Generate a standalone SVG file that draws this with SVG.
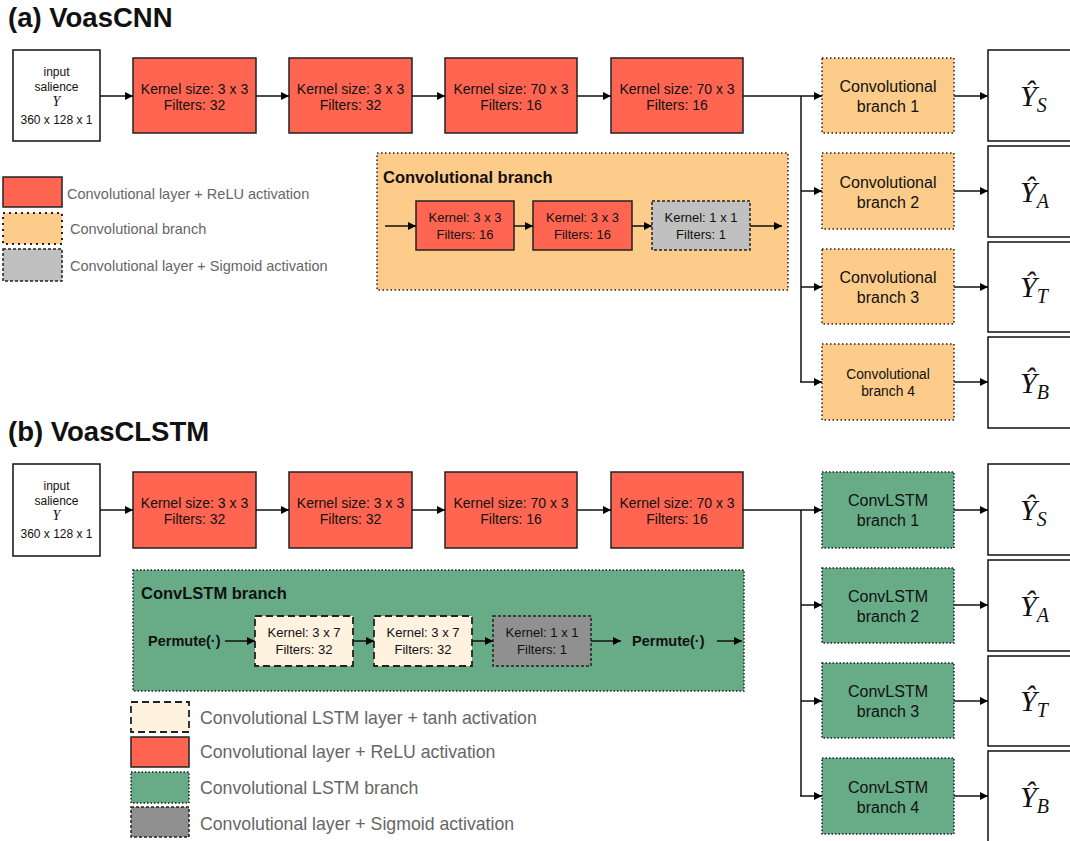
<svg xmlns="http://www.w3.org/2000/svg" width="1070" height="841" viewBox="0 0 1070 841">
<defs>
<marker id="ah" viewBox="0 0 10 10" refX="10" refY="5" markerWidth="8" markerHeight="8" markerUnits="userSpaceOnUse" orient="auto"><path d="M0,0 L10,5 L0,10 z" fill="#000"/></marker>
<style>
.t{font-family:"Liberation Sans",Arial,sans-serif;fill:#111;}
.c{text-anchor:middle;}
.b{font-weight:bold;}
.relu{fill:#FF6550;stroke:#222;stroke-width:1.5;}
.cb{fill:#FDCB8A;stroke:#222;stroke-width:1.5;stroke-dasharray:1.5 2.5;}
.sig{fill:#C0C0C0;stroke:#222;stroke-width:1.5;stroke-dasharray:3 2;}
.lstm{fill:#FFF2DF;stroke:#222;stroke-width:1.8;stroke-dasharray:7 4;}
.gb{fill:#67AB87;stroke:#222;stroke-width:1.5;stroke-dasharray:1.5 2;}
.dsig{fill:#909090;stroke:#222;stroke-width:1.5;stroke-dasharray:3 2;}
.out{fill:#fff;stroke:#111;stroke-width:1.5;}
.in{fill:#fff;stroke:#111;stroke-width:1.5;}
.leg{font-family:"Liberation Sans",Arial,sans-serif;fill:#666;}
.yh{font-family:"Liberation Serif","Times New Roman",serif;font-style:italic;fill:#111;}
.con{stroke:#111;stroke-width:1.5;fill:none;}
.arr{stroke:#111;stroke-width:1.5;fill:none;marker-end:url(#ah);}
</style>
</defs>
<rect width="1070" height="841" fill="#fff"/>

<text class="t b" x="8" y="27" font-size="27.5">(a) VoasCNN</text>
<text class="t b" x="8" y="441" font-size="27.5">(b) VoasCLSTM</text>

<!-- ===== (a) ===== -->
<g id="a-input">
<rect class="in" x="13" y="50" width="87" height="91"/>
<text class="t c" x="56.5" y="76" font-size="12">input</text>
<text class="t c" x="56.5" y="91" font-size="12">salience</text>
<text class="yh c" x="56.5" y="106" font-size="14">Y</text>
<text class="t c" x="56.5" y="124" font-size="12">360 x 128 x 1</text>
</g>
<g id="a-conv1"><rect class="relu" x="133" y="58" width="123" height="75"/>
<text class="t c" x="194.5" y="94" font-size="14">Kernel size: 3 x 3</text><text class="t c" x="194.5" y="110" font-size="14">Filters: 32</text></g>
<g id="a-conv2"><rect class="relu" x="289" y="58" width="123" height="75"/>
<text class="t c" x="350.5" y="94" font-size="14">Kernel size: 3 x 3</text><text class="t c" x="350.5" y="110" font-size="14">Filters: 32</text></g>
<g id="a-conv3"><rect class="relu" x="445" y="58" width="132" height="75"/>
<text class="t c" x="511" y="94" font-size="14">Kernel size: 70 x 3</text><text class="t c" x="511" y="110" font-size="14">Filters: 16</text></g>
<g id="a-conv4"><rect class="relu" x="611" y="58" width="132" height="75"/>
<text class="t c" x="677" y="94" font-size="14">Kernel size: 70 x 3</text><text class="t c" x="677" y="110" font-size="14">Filters: 16</text></g>

<g id="a-branch1"><rect class="cb" x="822" y="58" width="132" height="75"/>
<text class="t c" x="888" y="92" font-size="16">Convolutional</text><text class="t c" x="888" y="112" font-size="16">branch 1</text></g>
<g id="a-branch2"><rect class="cb" x="822" y="153" width="132" height="76"/>
<text class="t c" x="888" y="188" font-size="16">Convolutional</text><text class="t c" x="888" y="208" font-size="16">branch 2</text></g>
<g id="a-branch3"><rect class="cb" x="822" y="249" width="132" height="75"/>
<text class="t c" x="888" y="283" font-size="16">Convolutional</text><text class="t c" x="888" y="303" font-size="16">branch 3</text></g>
<g id="a-branch4"><rect class="cb" x="822" y="344" width="132" height="76"/>
<text class="t c" x="888" y="379" font-size="13.8">Convolutional</text><text class="t c" x="888" y="396" font-size="13.8">branch 4</text></g>

<g id="a-outS"><rect class="out" x="988" y="50" width="100" height="91"/>
<text class="yh" x="1020" y="106" font-size="30">Ŷ<tspan font-size="20" dy="6">S</tspan></text></g>
<g id="a-outA"><rect class="out" x="988" y="146" width="100" height="91"/>
<text class="yh" x="1020" y="202" font-size="30">Ŷ<tspan font-size="20" dy="6">A</tspan></text></g>
<g id="a-outT"><rect class="out" x="988" y="242" width="100" height="90"/>
<text class="yh" x="1020" y="297" font-size="30">Ŷ<tspan font-size="20" dy="6">T</tspan></text></g>
<g id="a-outB"><rect class="out" x="988" y="337" width="100" height="91"/>
<text class="yh" x="1020" y="393" font-size="30">Ŷ<tspan font-size="20" dy="6">B</tspan></text></g>

<g id="a-legend">
<rect class="relu" x="3" y="177" width="59" height="30"/>
<text class="leg" x="67" y="199" font-size="14.5">Convolutional layer + ReLU activation</text>
<rect class="cb" x="3" y="213" width="59" height="31" style="stroke-width:2;stroke-dasharray:2 4"/>
<text class="leg" x="70" y="234" font-size="14.5">Convolutional branch</text>
<rect class="sig" x="3" y="249" width="59" height="32"/>
<text class="leg" x="70" y="271" font-size="14.5">Convolutional layer + Sigmoid activation</text>
</g>

<g id="a-convbranch">
<rect class="cb" x="377" y="153" width="411" height="137"/>
<text class="t b" x="383" y="183" font-size="16.5">Convolutional branch</text>
<rect class="relu" x="416" y="201" width="98" height="49"/>
<text class="t c" x="465" y="222" font-size="13">Kernel: 3 x 3</text><text class="t c" x="465" y="239" font-size="13">Filters: 16</text>
<rect class="relu" x="533" y="201" width="99" height="49"/>
<text class="t c" x="582.5" y="222" font-size="13">Kernel: 3 x 3</text><text class="t c" x="582.5" y="239" font-size="13">Filters: 16</text>
<rect class="sig" x="652" y="201" width="98" height="49"/>
<text class="t c" x="701" y="222" font-size="13">Kernel: 1 x 1</text><text class="t c" x="701" y="239" font-size="13">Filters: 1</text>
<line class="arr" x1="385" y1="226" x2="416" y2="226"/>
<line class="arr" x1="514" y1="226" x2="533" y2="226"/>
<line class="arr" x1="632" y1="226" x2="652" y2="226"/>
<line class="arr" x1="750" y1="226" x2="782" y2="226"/>
</g>

<!-- ===== (b) ===== -->
<g id="b-input">
<rect class="in" x="13" y="464" width="87" height="92"/>
<text class="t c" x="56.5" y="490" font-size="12">input</text>
<text class="t c" x="56.5" y="505" font-size="12">salience</text>
<text class="yh c" x="56.5" y="520" font-size="14">Y</text>
<text class="t c" x="56.5" y="538" font-size="12">360 x 128 x 1</text>
</g>
<g id="b-conv1"><rect class="relu" x="133" y="472" width="123" height="76"/>
<text class="t c" x="194.5" y="508" font-size="14">Kernel size: 3 x 3</text><text class="t c" x="194.5" y="524" font-size="14">Filters: 32</text></g>
<g id="b-conv2"><rect class="relu" x="289" y="472" width="123" height="76"/>
<text class="t c" x="350.5" y="508" font-size="14">Kernel size: 3 x 3</text><text class="t c" x="350.5" y="524" font-size="14">Filters: 32</text></g>
<g id="b-conv3"><rect class="relu" x="445" y="472" width="132" height="76"/>
<text class="t c" x="511" y="508" font-size="14">Kernel size: 70 x 3</text><text class="t c" x="511" y="524" font-size="14">Filters: 16</text></g>
<g id="b-conv4"><rect class="relu" x="611" y="472" width="132" height="76"/>
<text class="t c" x="677" y="508" font-size="14">Kernel size: 70 x 3</text><text class="t c" x="677" y="524" font-size="14">Filters: 16</text></g>

<g id="b-branch1"><rect class="gb" x="822" y="472" width="132" height="76"/>
<text class="t c" x="888" y="506" font-size="16">ConvLSTM</text><text class="t c" x="888" y="526" font-size="16">branch 1</text></g>
<g id="b-branch2"><rect class="gb" x="822" y="568" width="132" height="75"/>
<text class="t c" x="888" y="602" font-size="16">ConvLSTM</text><text class="t c" x="888" y="622" font-size="16">branch 2</text></g>
<g id="b-branch3"><rect class="gb" x="822" y="663" width="132" height="75"/>
<text class="t c" x="888" y="697" font-size="16">ConvLSTM</text><text class="t c" x="888" y="717" font-size="16">branch 3</text></g>
<g id="b-branch4"><rect class="gb" x="822" y="758" width="132" height="76"/>
<text class="t c" x="888" y="793" font-size="16">ConvLSTM</text><text class="t c" x="888" y="813" font-size="16">branch 4</text></g>

<g id="b-outS"><rect class="out" x="988" y="464" width="100" height="91"/>
<text class="yh" x="1020" y="520" font-size="30">Ŷ<tspan font-size="20" dy="6">S</tspan></text></g>
<g id="b-outA"><rect class="out" x="988" y="560" width="100" height="91"/>
<text class="yh" x="1020" y="616" font-size="30">Ŷ<tspan font-size="20" dy="6">A</tspan></text></g>
<g id="b-outT"><rect class="out" x="988" y="656" width="100" height="90"/>
<text class="yh" x="1020" y="711" font-size="30">Ŷ<tspan font-size="20" dy="6">T</tspan></text></g>
<g id="b-outB"><rect class="out" x="988" y="751" width="100" height="100"/>
<text class="yh" x="1020" y="807" font-size="30">Ŷ<tspan font-size="20" dy="6">B</tspan></text></g>

<g id="b-lstmbranch">
<rect class="gb" x="133" y="570" width="611" height="121"/>
<text class="t b" x="141" y="599" font-size="16.5">ConvLSTM branch</text>
<text class="t b" x="148" y="646" font-size="14.5">Permute(·)</text>
<rect class="lstm" x="255" y="616" width="98" height="50"/>
<text class="t c" x="304" y="637" font-size="13">Kernel: 3 x 7</text><text class="t c" x="304" y="654" font-size="13">Filters: 32</text>
<rect class="lstm" x="374" y="616" width="98" height="50"/>
<text class="t c" x="423" y="637" font-size="13">Kernel: 3 x 7</text><text class="t c" x="423" y="654" font-size="13">Filters: 32</text>
<rect class="dsig" x="493" y="616" width="98" height="50"/>
<text class="t c" x="542" y="637" font-size="13">Kernel: 1 x 1</text><text class="t c" x="542" y="654" font-size="13">Filters: 1</text>
<text class="t b" x="632" y="646" font-size="14.5">Permute(·)</text>
<line class="arr" x1="225" y1="641" x2="255" y2="641"/>
<line class="arr" x1="353" y1="641" x2="374" y2="641"/>
<line class="arr" x1="472" y1="641" x2="493" y2="641"/>
<line class="arr" x1="591" y1="641" x2="621" y2="641"/>
<line class="arr" x1="717" y1="641" x2="742" y2="641"/>
</g>

<g id="b-legend">
<rect class="lstm" x="131" y="702" width="58" height="30"/>
<text class="leg" x="200" y="724" font-size="17.7">Convolutional LSTM layer + tanh activation</text>
<rect class="relu" x="131" y="737" width="58" height="30"/>
<text class="leg" x="200" y="758" font-size="17.7">Convolutional layer + ReLU activation</text>
<rect class="gb" x="131" y="772" width="58" height="31"/>
<text class="leg" x="200" y="794" font-size="17.7">Convolutional LSTM branch</text>
<rect class="dsig" x="131" y="807" width="58" height="30"/>
<text class="leg" x="200" y="830" font-size="17.7">Convolutional layer + Sigmoid activation</text>
</g>

<g id="connectors">
<line class="arr" x1="100" y1="96" x2="133" y2="96"/>
<line class="arr" x1="256" y1="96" x2="289" y2="96"/>
<line class="arr" x1="412" y1="96" x2="445" y2="96"/>
<line class="arr" x1="577" y1="96" x2="611" y2="96"/>
<polyline class="con" points="743,96 801,96"/>
<line class="con" x1="801" y1="96" x2="801" y2="382"/>
<line class="arr" x1="801" y1="96" x2="822" y2="96"/>
<line class="arr" x1="801" y1="191" x2="822" y2="191"/>
<line class="arr" x1="801" y1="287" x2="822" y2="287"/>
<line class="arr" x1="800" y1="382" x2="822" y2="382"/>
<line class="arr" x1="954" y1="96" x2="988" y2="96"/>
<line class="arr" x1="954" y1="191" x2="988" y2="191"/>
<line class="arr" x1="954" y1="287" x2="988" y2="287"/>
<line class="arr" x1="954" y1="382" x2="988" y2="382"/>

<line class="arr" x1="100" y1="510" x2="133" y2="510"/>
<line class="arr" x1="256" y1="510" x2="289" y2="510"/>
<line class="arr" x1="412" y1="510" x2="445" y2="510"/>
<line class="arr" x1="577" y1="510" x2="611" y2="510"/>
<polyline class="con" points="743,510 801,510"/>
<line class="con" x1="801" y1="510" x2="801" y2="796"/>
<line class="arr" x1="801" y1="510" x2="822" y2="510"/>
<line class="arr" x1="801" y1="605" x2="822" y2="605"/>
<line class="arr" x1="801" y1="701" x2="822" y2="701"/>
<line class="arr" x1="800" y1="796" x2="822" y2="796"/>
<line class="arr" x1="954" y1="510" x2="988" y2="510"/>
<line class="arr" x1="954" y1="605" x2="988" y2="605"/>
<line class="arr" x1="954" y1="701" x2="988" y2="701"/>
<line class="arr" x1="954" y1="796" x2="988" y2="796"/>
</g>
</svg>
